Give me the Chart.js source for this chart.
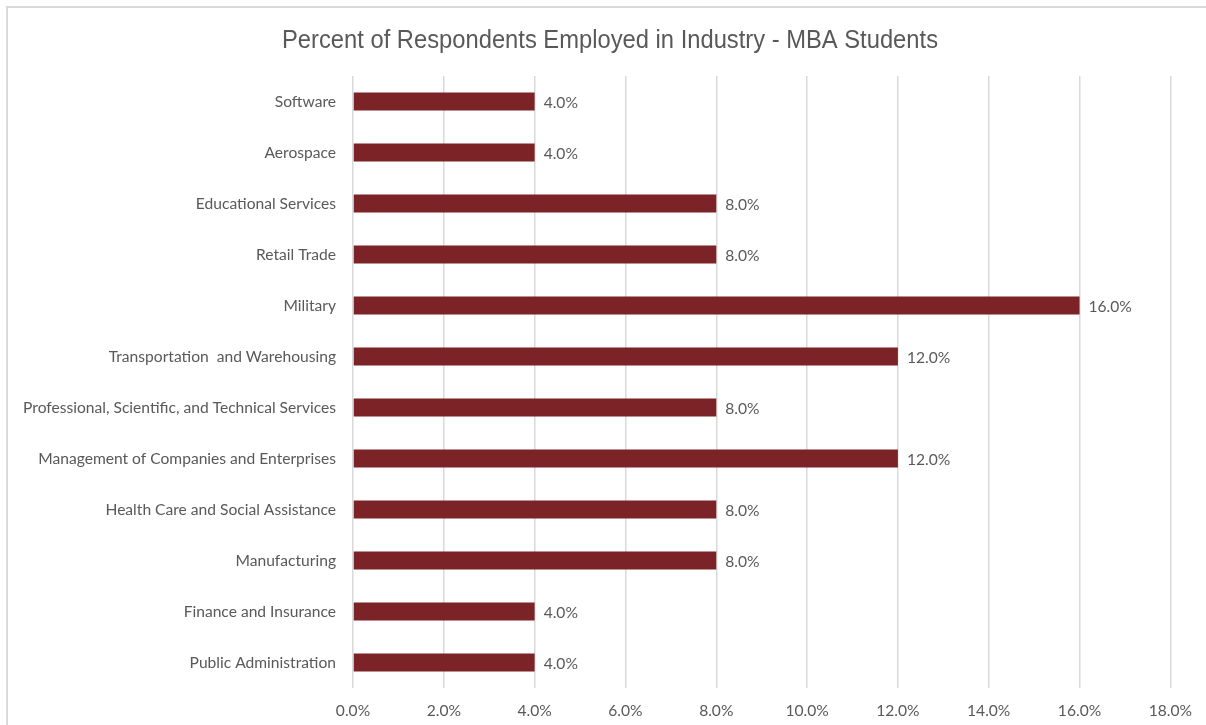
<!DOCTYPE html>
<html><head><meta charset="utf-8">
<script src="https://cdn.jsdelivr.net/npm/chart.js@4"></script>
<style>
html,body{margin:0;padding:0;background:#fff;}
#frame{position:absolute;left:6px;top:6px;width:1300px;height:800px;border-top:2px solid #d9d9d9;border-left:2px solid #d9d9d9;}
#wrap{position:absolute;left:0;top:0;width:1206px;height:725px;}
</style></head><body>
<div id="frame"></div>
<div id="wrap"><canvas id="c" width="1206" height="725"></canvas></div>
<script>
const categories = ["Software","Aerospace","Educational Services","Retail Trade","Military","Transportation  and Warehousing","Professional, Scientific, and Technical Services","Management of Companies and Enterprises","Health Care and Social Assistance","Manufacturing","Finance and Insurance","Public Administration"];
const values = [4,4,8,8,16,12,8,12,8,8,4,4];
const xTicks = [0,2,4,6,8,10,12,14,16,18];
const title = "Percent of Respondents Employed in Industry - MBA Students";

const labelFont = "Lato, 'Liberation Sans', sans-serif";
const labelSize = 15.6;
const dataLabels = {
  id:'dataLabels',
  afterDatasetsDraw(chart){
    const ctx = chart.ctx;
    const meta = chart.getDatasetMeta(0);
    ctx.save();
    ctx.font = labelSize + "px " + labelFont;
    ctx.fillStyle = "#595959";
    ctx.textBaseline = "middle";
    ctx.textAlign = "left";
    meta.data.forEach((bar,i)=>{
      ctx.fillText(values[i].toFixed(1)+"%", bar.x + 9, bar.y + 1);
    });
    ctx.restore();
  }
};
const titlePlugin = {
  id:'condTitle',
  afterDraw(chart){
    const ctx = chart.ctx;
    ctx.save();
    ctx.font = "26px 'Liberation Sans', sans-serif";
    ctx.fillStyle = "#595959";
    ctx.textBaseline = "alphabetic";
    ctx.textAlign = "center";
    const w = ctx.measureText(title).width;
    const s = 656 / w;
    ctx.translate(610, 48);
    ctx.scale(s, 1);
    ctx.fillText(title, 0, 0);
    ctx.restore();
  }
};
new Chart(document.getElementById('c'),{
  type:'bar',
  data:{labels:categories,datasets:[{data:values,backgroundColor:'#7b2327',borderWidth:0,barPercentage:0.7,categoryPercentage:0.5}]},
  options:{
    indexAxis:'y',responsive:false,animation:false,
    layout:{padding:{top:76,right:31,bottom:0,left:0}},
    plugins:{legend:{display:false},tooltip:{enabled:false},title:{display:false}},
    scales:{
      x:{min:0,max:18,afterBuildTicks(ax){ax.ticks=xTicks.map(v=>({value:v}));},
        afterFit(ax){ax.height=37;},
        grid:{color:'#d9d9d9',lineWidth:1.5,drawTicks:false},border:{display:false},
        ticks:{color:'#595959',font:{family:labelFont,size:labelSize},padding:14,callback:v=>Number(v).toFixed(1)+'%'}},
      y:{grid:{display:false,drawTicks:false},border:{display:false},
        afterFit(ax){ax.width=353;},
        ticks:{color:'#595959',font:{family:labelFont,size:labelSize},padding:17}}
    }
  },
  plugins:[dataLabels,titlePlugin]
});
</script></body></html>
